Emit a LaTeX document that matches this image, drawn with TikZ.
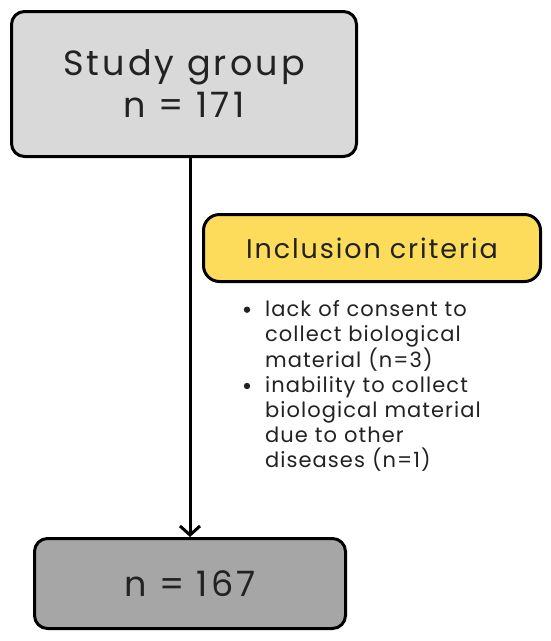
\documentclass[tikz,border=0pt]{standalone}
\usepackage{fontspec}
\setmainfont{Poppins}
\newfontfamily\widefont[LetterSpace=9]{Poppins}
\newfontfamily\midfont[LetterSpace=7]{Poppins}
\newfontfamily\listfont[LetterSpace=5]{Poppins}
\usepackage{enumitem}
\usetikzlibrary{arrows.meta}

\definecolor{startgray}{HTML}{D9D9D9}
\definecolor{endgray}{HTML}{A6A6A6}
\definecolor{crityellow}{HTML}{FCDC5A}
\definecolor{inkgray}{HTML}{222222}

\begin{document}
\begin{tikzpicture}[x=1pt,y=-1pt,>={Straight Barb[length=9pt,width=20pt]},line width=3pt,text=inkgray]
  \tikzstyle{flowbox}=[draw=black,rounded corners=13pt,align=center,inner sep=0pt]
  \tikzstyle{crittext}=[anchor=north west,align=left,inner sep=0pt,text width=300pt]

  \useasboundingbox (0,0) rectangle (550,641);

  \node[flowbox,fill=startgray,minimum width=345pt,minimum height=145pt,
        font=\widefont\fontsize{35}{42}\selectfont] (study) at (184,84) {Study group\\n = 171};
  \node[flowbox,fill=crityellow,minimum width=337pt,minimum height=67pt,rounded corners=16pt,
        font=\midfont\fontsize{27}{30}\selectfont] (incl) at (372,248) {Inclusion criteria};
  \node[flowbox,fill=endgray,minimum width=311pt,minimum height=90pt,
        font=\widefont\fontsize{35}{40}\selectfont] (final) at (190,583.5) {n = 167};

  \node[crittext,font=\listfont\fontsize{21}{25}\selectfont] (list) at (236,291) {%
    \begin{itemize}[leftmargin=29pt,labelsep=15pt,itemsep=0pt,topsep=0pt,parsep=0pt,partopsep=0pt,
                    label={\tikz[baseline=-6.5pt]\fill (0,0) circle[radius=3.2pt];}]
      \item lack of consent to\\collect biological\\material (n=3)
      \item inability to collect\\biological material\\due to other\\diseases (n=1)
    \end{itemize}};

  \draw[->] (study.south -| final.north) -- (final.north);
\end{tikzpicture}
\end{document}
